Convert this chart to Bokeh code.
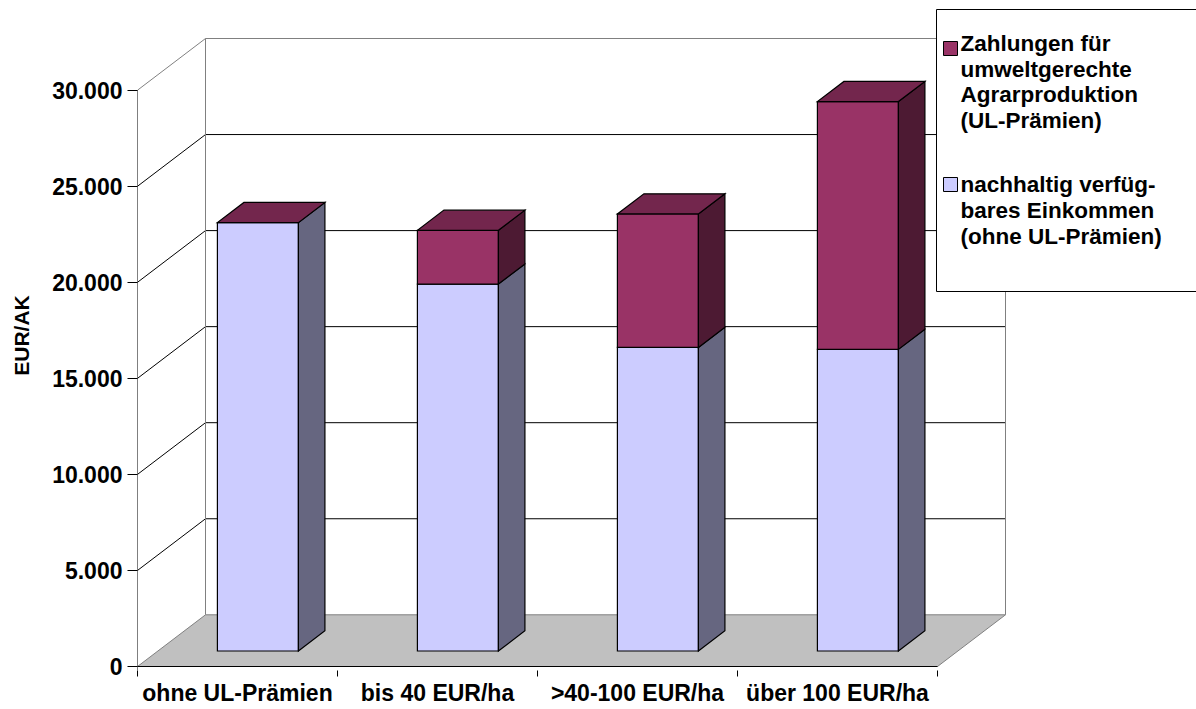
from bokeh.plotting import figure
from bokeh.models import Range1d, FixedTicker
from bokeh.core.properties import value
from bokeh.embed import file_html
from bokeh.resources import INLINE

# ---- data -------------------------------------------------------------
categories = ["ohne UL-Prämien", "bis 40 EUR/ha", ">40-100 EUR/ha", "über 100 EUR/ha"]
income = [22300, 19100, 15800, 15700]      # nachhaltig verfügbares Einkommen (ohne UL-Prämien)
payments = [0, 2800, 6950, 12900]          # Zahlungen für umweltgerechte Agrarproduktion
y_ticks = [0, 5000, 10000, 15000, 20000, 25000, 30000]
y_tick_labels = ["0", "5.000", "10.000", "15.000", "20.000", "25.000", "30.000"]
legend_payments = ["Zahlungen für", "umweltgerechte", "Agrarproduktion", "(UL-Prämien)"]
legend_income = ["nachhaltig verfüg-", "bares Einkommen", "(ohne UL-Prämien)"]
y_title = "EUR/AK"

# ---- layout constants (pixels) ----------------------------------------
W, H = 1196, 709
LEFT = 137                 # front-left edge of the chart box
ZERO = 666                 # pixel row of value 0 on the front plane
BOTTOM = 670               # bottom of the plotting frame
PX_PER_VAL = 576.3 / 30000
SLOT = 200                 # pixel width of one category slot

def vx(px):
    return (px - LEFT) / SLOT

def vy(py):
    return (ZERO - py) / PX_PER_VAL

DX = 68 / SLOT             # full depth, horizontal component
DY = 51.7 / PX_PER_VAL     # full depth, vertical component
D_FRONT, D_BACK = 0.30, 0.69
HALF_W = 0.2025

FONT = value("Liberation Sans")
BLACK, GREY = "#000000", "#808080"
LAV = dict(front="#CCCCFF", side="#666680", top="#9999BF")
PUR = dict(front="#993366", side="#4D1A33", top="#73264D")

p = figure(width=W, height=H,
           x_range=Range1d(0, vx(W)), y_range=Range1d(vy(BOTTOM), vy(0)),
           output_backend="svg", toolbar_location=None,
           min_border_left=LEFT, min_border_right=0, min_border_top=0,
           min_border_bottom=H - BOTTOM)
p.outline_line_color = None
p.background_fill_color = "white"
p.border_fill_color = "white"
p.xgrid.grid_line_color = None
p.ygrid.grid_line_color = None

# ---- walls -------------------------------------------------------------
n = len(categories)
top_val = y_ticks[-1]
grid_vals = y_ticks[1:]
grid_cols = [GREY if v == top_val else BLACK for v in grid_vals]
# back wall horizontal lines
p.segment(x0=[DX] * len(grid_vals), y0=[v + DY for v in grid_vals],
          x1=[n + DX] * len(grid_vals), y1=[v + DY for v in grid_vals],
          line_color=grid_cols, line_width=1)
# side wall diagonals
p.segment(x0=[0] * len(grid_vals), y0=grid_vals,
          x1=[DX] * len(grid_vals), y1=[v + DY for v in grid_vals],
          line_color=grid_cols, line_width=1)
# back wall vertical edges
p.segment(x0=[DX, n + DX], y0=[DY, DY], x1=[DX, n + DX], y1=[top_val + DY] * 2,
          line_color=GREY, line_width=1)

# floor
p.patch(x=[0, n, n + DX, DX], y=[0, 0, DY, DY],
        fill_color="#C0C0C0", line_color=GREY, line_width=1)
# front edge of the floor and value axis line
p.segment(x0=[0, 0], y0=[0, vy(BOTTOM)], x1=[n, 0], y1=[0, top_val],
          line_color=BLACK, line_width=1)

# ---- bars --------------------------------------------------------------
fx, fy = D_FRONT * DX, D_FRONT * DY
bx, by = D_BACK * DX, D_BACK * DY
fronts = dict(xs=[], ys=[], c=[])
sides = dict(xs=[], ys=[], c=[])
tops = dict(xs=[], ys=[], c=[])
for i in range(n):
    xl, xr = i + 0.5 - HALF_W, i + 0.5 + HALF_W
    segs = [(0, income[i], LAV), (income[i], income[i] + payments[i], PUR)]
    for v0, v1, col in segs:
        if v1 > v0:
            fronts["xs"].append([xl + fx, xr + fx, xr + fx, xl + fx])
            fronts["ys"].append([v0 + fy, v0 + fy, v1 + fy, v1 + fy])
            fronts["c"].append(col["front"])
            sides["xs"].append([xr + fx, xr + bx, xr + bx, xr + fx])
            sides["ys"].append([v0 + fy, v0 + by, v1 + by, v1 + fy])
            sides["c"].append(col["side"])
    vt = income[i] + payments[i]
    tops["xs"].append([xl + fx, xr + fx, xr + bx, xl + bx])
    tops["ys"].append([vt + fy, vt + fy, vt + by, vt + by])
    tops["c"].append(PUR["top"])

for d in (fronts, sides, tops):
    p.patches(xs=d["xs"], ys=d["ys"], fill_color=d["c"],
              line_color=BLACK, line_width=1.2, line_join="miter")

# ---- axes --------------------------------------------------------------
yax = p.yaxis[0]
yax.ticker = FixedTicker(ticks=y_ticks)
yax.major_label_overrides = dict(zip(y_ticks, y_tick_labels))
yax.axis_line_color = None
yax.major_tick_in = 0
yax.major_tick_out = 10
yax.major_tick_line_color = BLACK
yax.minor_tick_line_color = None
yax.major_label_standoff = 5
yax.major_label_text_font = "Liberation Sans"
yax.major_label_text_font_style = "bold"
yax.major_label_text_font_size = "23px"
yax.major_label_text_color = BLACK
yax.axis_label = y_title
yax.axis_label_standoff = 16
yax.axis_label_text_font = "Liberation Sans"
yax.axis_label_text_font_style = "bold"
yax.axis_label_text_font_size = "21px"
yax.axis_label_text_color = BLACK

xax = p.xaxis[0]
centers = [i + 0.5 for i in range(n)]
xax.ticker = FixedTicker(ticks=centers, minor_ticks=list(range(n + 1)))
xax.major_label_overrides = dict(zip(centers, categories))
xax.axis_line_color = None
xax.major_tick_line_color = None
xax.major_tick_in = 0
xax.major_tick_out = 0
xax.minor_tick_in = 0
xax.minor_tick_out = 6
xax.minor_tick_line_color = BLACK
xax.major_label_standoff = 3
xax.major_label_text_font = "Liberation Sans"
xax.major_label_text_font_style = "bold"
xax.major_label_text_font_size = "23px"
xax.major_label_text_color = BLACK

# ---- legend ------------------------------------------------------------
p.quad(left=[vx(936)], right=[vx(W) + 1], top=[vy(9)], bottom=[vy(291)],
       fill_color="white", line_color=BLACK, line_width=1)
p.quad(left=[vx(943)] * 2, right=[vx(957)] * 2,
       top=[vy(41), vy(177)], bottom=[vy(55), vy(191)],
       fill_color=[PUR["front"], LAV["front"]], line_color=BLACK, line_width=1)
leg_text = legend_payments + legend_income
leg_rows = [43 + 25.7 * k for k in range(len(legend_payments))] + \
           [184 + 26 * k for k in range(len(legend_income))]
p.text(x=[vx(960)] * len(leg_text), y=[vy(r) for r in leg_rows], text=leg_text,
       text_font=FONT, text_font_style="bold", text_font_size="22.5px",
       text_align="left", text_baseline="middle", text_color=BLACK)

open("out.html", "w").write(file_html(p, INLINE))
